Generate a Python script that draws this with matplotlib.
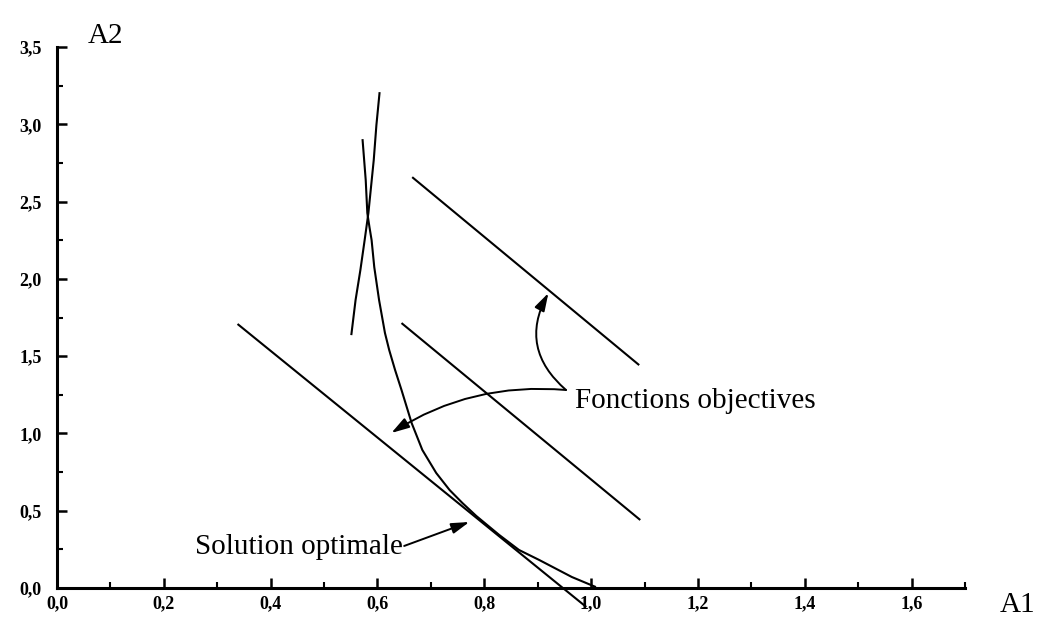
import matplotlib
matplotlib.use("Agg")
import matplotlib.pyplot as plt

plt.rcParams['font.family'] = ['Liberation Serif', 'DejaVu Serif']

# objective function lines (A1, A2)
line_opt_x = [0.338, 0.991]
line_opt_y = [1.708, -0.123]
line_mid_x = [0.645, 1.092]
line_mid_y = [1.714, 0.440]
line_up_x = [0.665, 1.090]
line_up_y = [2.658, 1.442]

# constraint curves
curve1_x = [0.572, 0.578, 0.581, 0.585, 0.589, 0.594, 0.603, 0.614, 0.622,
            0.633, 0.645, 0.664, 0.684, 0.710, 0.735, 0.759, 0.785, 0.828,
            0.865, 0.903, 0.964, 1.009]
curve1_y = [2.904, 2.639, 2.426, 2.335, 2.251, 2.076, 1.863, 1.650, 1.539,
            1.410, 1.281, 1.067, 0.893, 0.744, 0.634, 0.550, 0.466, 0.343,
            0.246, 0.181, 0.071, 0.006]
curve2_x = [0.551, 0.559, 0.568, 0.576, 0.583, 0.593, 0.598, 0.604]
curve2_y = [1.636, 1.863, 2.057, 2.251, 2.426, 2.768, 2.995, 3.208]

xticks = [0.0, 0.2, 0.4, 0.6, 0.8, 1.0, 1.2, 1.4, 1.6]
xlabels = ['0,0', '0,2', '0,4', '0,6', '0,8', '1,0', '1,2', '1,4', '1,6']
yticks = [0.0, 0.5, 1.0, 1.5, 2.0, 2.5, 3.0, 3.5]
ylabels = ['0,0', '0,5', '1,0', '1,5', '2,0', '2,5', '3,0', '3,5']

fig = plt.figure(figsize=(10.48, 6.26), dpi=100)
ax = fig.add_axes([57/1048, 38/626, 908/1048, 541/626])

lw = 1.5
for xs, ys in [(line_opt_x, line_opt_y), (line_mid_x, line_mid_y),
               (line_up_x, line_up_y), (curve1_x, curve1_y),
               (curve2_x, curve2_y)]:
    ax.plot(xs, ys, color='black', lw=lw, clip_on=False,
            solid_capstyle='butt', solid_joinstyle='round')

ax.set_xlim(0, 1.7)
ax.set_ylim(0, 3.5)
ax.spines['top'].set_visible(False)
ax.spines['right'].set_visible(False)
ax.spines['left'].set_linewidth(2.2)
ax.spines['bottom'].set_linewidth(2.2)

ax.set_xticks(xticks)
ax.set_xticklabels(xlabels, fontsize=13, fontweight='bold')
ax.set_yticks(yticks)
ax.set_yticklabels(ylabels, fontsize=13, fontweight='bold')
ax.set_xticks([0.1, 0.3, 0.5, 0.7, 0.9, 1.1, 1.3, 1.5, 1.7], minor=True)
ax.set_yticks([0.25, 0.75, 1.25, 1.75, 2.25, 2.75, 3.25], minor=True)
ax.tick_params(axis='both', which='major', direction='in', length=7, width=1.8)
ax.tick_params(axis='both', which='minor', direction='in', length=4, width=1.5)
ax.tick_params(axis='x', which='major', pad=5)
ax.tick_params(axis='y', which='major', pad=11)

fig.text(88/1048, (626-43)/626, 'A2', fontsize=21)
fig.text(1000/1048, (626-612)/626, 'A1', fontsize=21)

arrow = dict(arrowstyle='-|>,head_length=0.6,head_width=0.18',
             color='black', lw=1.4, mutation_scale=18, shrinkA=0, shrinkB=0)

ax.text(0.970, 1.164, 'Fonctions objectives', fontsize=21, va='baseline')
ax.annotate('', xy=(0.920, 1.908), xytext=(0.953, 1.281),
            arrowprops=dict(arrow, connectionstyle='arc3,rad=-0.4'))
ax.annotate('', xy=(0.626, 1.003), xytext=(0.953, 1.281),
            arrowprops=dict(arrow, connectionstyle='arc3,rad=0.17'))

ax.text(0.258, 0.22, 'Solution optimale', fontsize=21, va='baseline')
ax.annotate('', xy=(0.772, 0.427), xytext=(0.650, 0.272),
            arrowprops=arrow)

fig.savefig('out.png', dpi=100)
